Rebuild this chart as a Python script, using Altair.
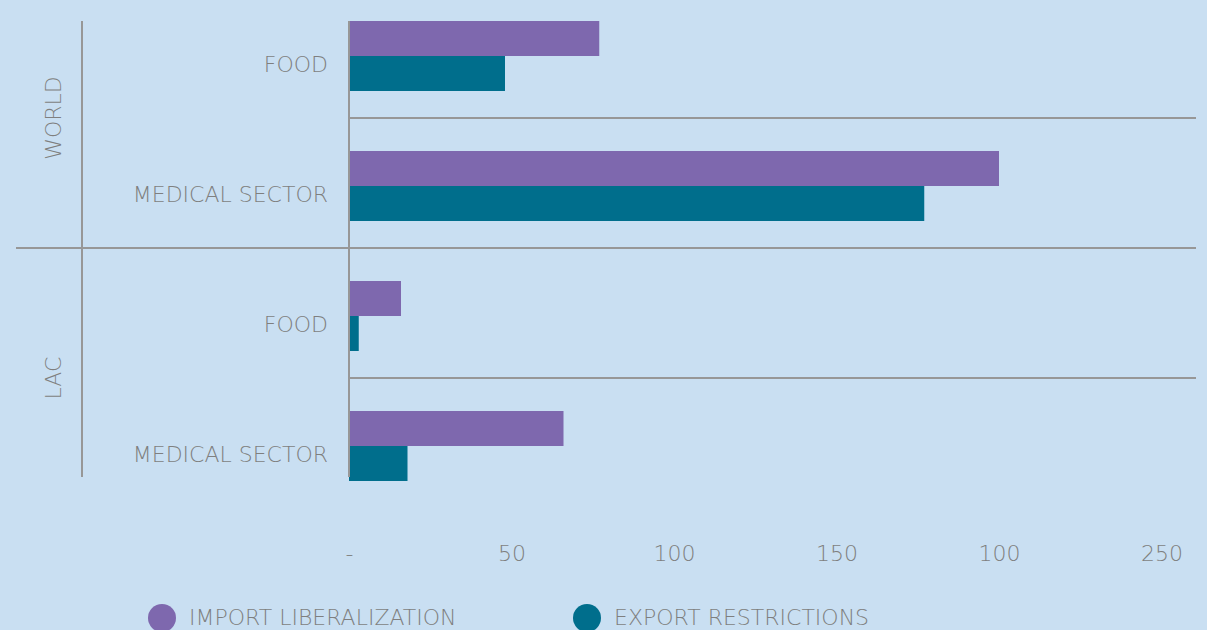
import altair as alt
import pandas as pd

# ---- data ----
groups = ["WORLD", "WORLD", "LAC", "LAC"]
sectors = ["FOOD", "MEDICAL SECTOR", "FOOD", "MEDICAL SECTOR"]
series_names = ["IMPORT LIBERALIZATION", "EXPORT RESTRICTIONS"]
import_liberalization = [77, 200, 16, 66]
export_restrictions = [48, 177, 3, 18]
tick_values = [0, 50, 100, 150, 200, 250]
tick_labels = ["-", "50", "100", "150", "100", "250"]

# ---- styles ----
BG = "#c9dff2"
COLORS = ["#7e68ae", "#006e8c"]
TEXT = "#7f7f7f"
LINE = "#979797"
FONT = "DejaVu Sans"
FS = 22
W, H = 845, 456

keys = [f"{g}|{s}" for g, s in zip(groups, sectors)]
rows = []
for k, g, s, a, b in zip(keys, groups, sectors, import_liberalization, export_restrictions):
    rows.append({"key": k, "group": g, "sector": s, "series": series_names[0], "value": a})
    rows.append({"key": k, "group": g, "sector": s, "series": series_names[1], "value": b})
bars_df = pd.DataFrame(rows)

label_expr = " : ".join(
    f"datum.value == {v} ? '{l}'" for v, l in zip(tick_values, tick_labels)
) + " : datum.label"

y_scale = alt.Scale(domain=keys, range=[-33, 487], paddingInner=0, paddingOuter=0)
x_scale = alt.Scale(domain=[0, 260], nice=False, zero=True)

bars = alt.Chart(bars_df).mark_bar().encode(
    x=alt.X(
        "value:Q",
        scale=x_scale,
        axis=alt.Axis(
            values=tick_values,
            labelExpr=label_expr,
            domain=False,
            ticks=False,
            tickSize=0,
            grid=False,
            labelPadding=76,
            labelBaseline="middle",
            labelFontSize=FS,
            labelColor=TEXT,
            labelFont=FONT,
            labelFontWeight=300,
            labelFlush=False,
            labelOverlap=False,
            title=None,
        ),
    ),
    y=alt.Y("key:N", scale=y_scale, axis=None),
    yOffset=alt.YOffset(
        "series:N",
        scale=alt.Scale(domain=series_names, paddingInner=0, paddingOuter=0.857, align=0.55),
    ),
    color=alt.Color(
        "series:N",
        scale=alt.Scale(domain=series_names, range=COLORS),
        legend=alt.Legend(
            title=None,
            orient="none",
            legendX=-201,
            legendY=583,
            direction="horizontal",
            symbolType="circle",
            symbolSize=784,
            symbolStrokeWidth=0,
            symbolOpacity=1,
            labelFontSize=FS,
            labelColor=TEXT,
            labelFont=FONT,
            labelFontWeight=300,
            labelOffset=13,
            labelLimit=500,
            columnPadding=116,
        ),
    ),
)

sep_short = alt.Chart(pd.DataFrame({"key": [keys[1], keys[3]]})).mark_rule(
    color=LINE, strokeWidth=2
).encode(
    y=alt.Y("key:N", scale=y_scale, bandPosition=0, axis=None),
    x=alt.value(0),
    x2=alt.value(W + 2),
)

sep_long = alt.Chart(pd.DataFrame({"key": [keys[2]]})).mark_rule(
    color=LINE, strokeWidth=2
).encode(
    y=alt.Y("key:N", scale=y_scale, bandPosition=0, axis=None),
    x=alt.value(-333),
    x2=alt.value(W + 2),
)

zero_axis = alt.Chart(pd.DataFrame({"z": [0]})).mark_rule(color=LINE, strokeWidth=2).encode(
    x=alt.X("z:Q", scale=x_scale),
    y=alt.value(0),
    y2=alt.value(H),
)

left_axis = alt.Chart(pd.DataFrame({"z": [0]})).mark_rule(color=LINE, strokeWidth=2).encode(
    x=alt.value(-267),
    y=alt.value(0),
    y2=alt.value(H),
)

group_labels = alt.Chart(
    pd.DataFrame({"label": ["WORLD", "LAC"], "key": [keys[1], keys[3]]})
).mark_text(
    angle=270, align="center", baseline="middle", fontSize=FS, font=FONT,
    fontWeight=300, color=TEXT,
).encode(
    y=alt.Y("key:N", scale=y_scale, bandPosition=0, axis=None),
    x=alt.value(-295),
    text="label:N",
)

sector_labels = alt.Chart(
    pd.DataFrame({"key": keys, "sector": sectors})
).mark_text(
    align="right", baseline="middle", fontSize=FS, font=FONT, fontWeight=300,
    color=TEXT, dy=12,
).encode(
    y=alt.Y("key:N", scale=y_scale, bandPosition=0.5, axis=None),
    x=alt.value(-21),
    text="sector:N",
)

chart = alt.layer(
    bars, sep_short, sep_long, zero_axis, left_axis, group_labels, sector_labels
).properties(
    width=W,
    height=H,
    background=BG,
    padding={"left": 341, "top": 13, "right": 5, "bottom": 153},
    autosize=alt.AutoSizeParams(type="none"),
).configure_view(strokeWidth=0)

chart.save(
    "out.html",
    embed_options={"renderer": "svg", "actions": False,
                   "defaultStyle": "body{background:#c9dff2;}"},
)
